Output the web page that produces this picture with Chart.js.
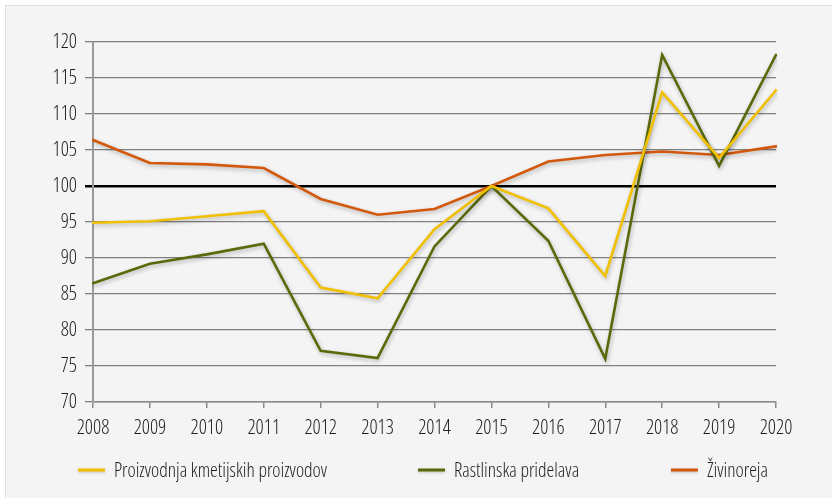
<!DOCTYPE html>
<html>
<head>
<meta charset="utf-8">
<script src="https://cdn.jsdelivr.net/npm/chart.js@4.4.1/dist/chart.umd.min.js"></script>
<style>
  html, body { margin: 0; padding: 0; background: #ffffff; }
  #box { position: absolute; left: 5px; top: 5px; width: 827px; height: 493px; background: #f4f4f4; border-left: 1px solid #e0e0e0; border-top: 1px solid #e0e0e0; box-sizing: border-box; }
  #wrap { position: absolute; left: 0; top: 0; width: 832px; height: 498px; }
</style>
</head>
<body>
<div id="box"></div>
<div id="wrap"><canvas id="c" width="832" height="498"></canvas></div>
<script>
const years = ['2008','2009','2010','2011','2012','2013','2014','2015','2016','2017','2018','2019','2020'];
const seriesNames = ['Proizvodnja kmetijskih proizvodov', 'Rastlinska pridelava', 'Živinoreja'];
const proizvodnja = [94.9, 95.1, 95.8, 96.5, 85.9, 84.4, 94.0, 100.0, 96.9, 87.5, 113.0, 103.9, 113.3];
const rastlinska  = [86.5, 89.2, 90.5, 92.0, 77.1, 76.1, 91.6, 100.0, 92.4, 76.0, 118.2, 102.8, 118.2];
const zivinoreja  = [106.4, 103.2, 103.0, 102.5, 98.2, 96.0, 96.8, 100.0, 103.4, 104.3, 104.8, 104.3, 105.5];
const yTicks = [70, 75, 80, 85, 90, 95, 100, 105, 110, 115, 120];

const FAMILY = "'Open Sans', 'Roboto Condensed', sans-serif";
const WEIGHT = 'condensed 300';
const colors = ['#F0C000', '#5A6A0A', '#D2580C'];

const shadowPlugin = {
  id: 'shadow',
  beforeDatasetsDraw(chart) {
    const ctx = chart.ctx;
    ctx.save();
    ctx.shadowColor = 'rgba(0,0,0,0.28)';
    ctx.shadowBlur = 4;
    ctx.shadowOffsetX = 1;
    ctx.shadowOffsetY = 2;
  },
  afterDatasetsDraw(chart) { chart.ctx.restore(); }
};

const legendPlugin = {
  id: 'customLegend',
  afterDraw(chart) {
    const ctx = chart.ctx;
    const slots = [78, 418, 671];
    ctx.save();
    ctx.font = WEIGHT + ' 19.5px ' + FAMILY;
    ctx.textBaseline = 'middle';
    ctx.textAlign = 'left';
    const y = 470;
    chart.data.datasets.forEach((ds, i) => {
      const x = slots[i];
      ctx.save();
      ctx.shadowColor = 'rgba(0,0,0,0.22)';
      ctx.shadowBlur = 3;
      ctx.shadowOffsetY = 1;
      ctx.strokeStyle = ds.borderColor;
      ctx.lineWidth = 3;
      ctx.beginPath();
      ctx.moveTo(x, y);
      ctx.lineTo(x + 27, y);
      ctx.stroke();
      ctx.restore();
      ctx.fillStyle = '#1e1e1e';
      ctx.fillText(ds.label, x + 36, y + 1);
    });
    ctx.restore();
  }
};

new Chart(document.getElementById('c'), {
  type: 'line',
  data: {
    labels: years,
    datasets: [
      { label: seriesNames[0], data: proizvodnja, borderColor: colors[0], backgroundColor: colors[0] },
      { label: seriesNames[1], data: rastlinska, borderColor: colors[1], backgroundColor: colors[1] },
      { label: seriesNames[2], data: zivinoreja, borderColor: colors[2], backgroundColor: colors[2] }
    ]
  },
  options: {
    responsive: false,
    animation: false,
    devicePixelRatio: 1,
    layout: { padding: { left: 0, top: 42, right: 56, bottom: 0 } },
    elements: {
      line: { borderWidth: 2.6, tension: 0, borderCapStyle: 'round', borderJoinStyle: 'miter' },
      point: { radius: 0, hoverRadius: 0 }
    },
    plugins: { legend: { display: false }, tooltip: { enabled: false } },
    scales: {
      x: {
        offset: false,
        grid: { display: true, drawOnChartArea: false, drawTicks: true, tickLength: 6, color: '#8a8a8a', lineWidth: 1.5 },
        border: { display: true, color: '#8a8a8a', width: 1.5 },
        ticks: { color: '#1e1e1e', font: { family: FAMILY, size: 20, weight: WEIGHT }, padding: 8, maxRotation: 0, autoSkip: false },
        afterFit(scale) { scale.height = 96; }
      },
      y: {
        min: 70, max: 120,
        afterBuildTicks(scale) { scale.ticks = yTicks.map(v => ({ value: v })); },
        grid: {
          drawTicks: true, tickLength: 8,
          color: (c) => (c.tick && c.tick.value === 100) ? '#000000' : '#808080',
          lineWidth: (c) => (c.tick && c.tick.value === 100) ? 2.5 : 1.3
        },
        border: { display: true, color: '#9a9a9a', width: 2 },
        ticks: { color: '#1e1e1e', font: { family: FAMILY, size: 20, weight: WEIGHT }, padding: 8 },
        afterFit(scale) { scale.width = 93; }
      }
    }
  },
  plugins: [shadowPlugin, legendPlugin]
});
</script>
</body>
</html>
